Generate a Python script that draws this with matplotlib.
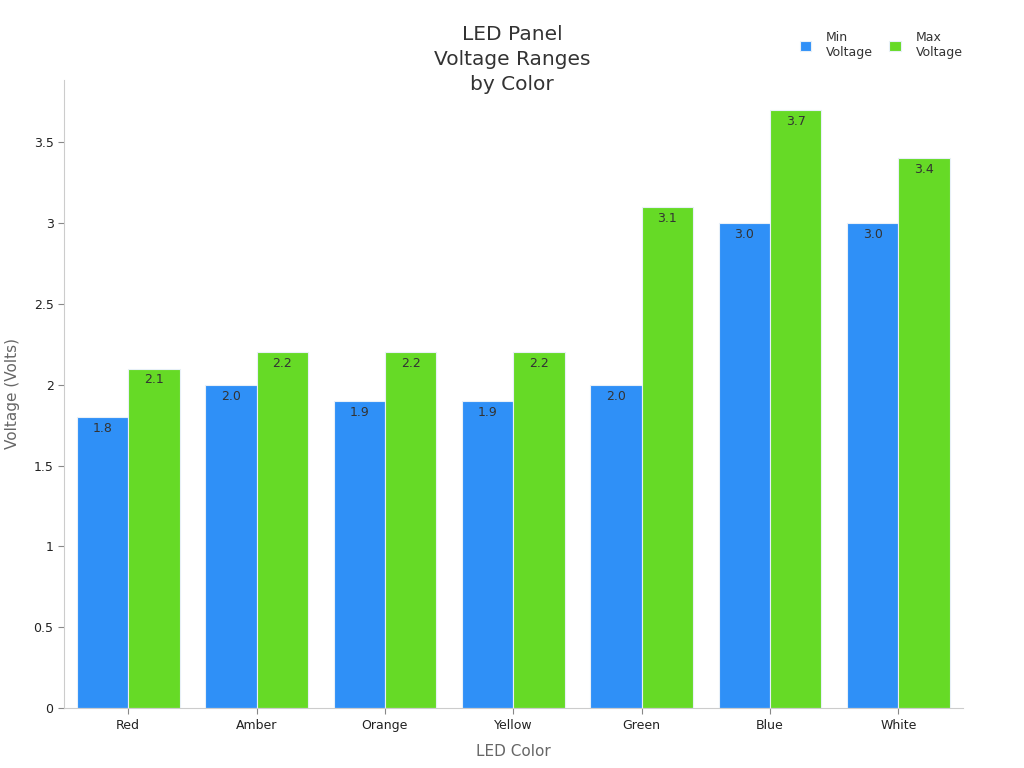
import numpy as np
import matplotlib
matplotlib.use("Agg")
from matplotlib import pyplot as plt

colors_led = ['Red', 'Amber', 'Orange', 'Yellow', 'Green', 'Blue', 'White']
min_voltage = [1.8, 2.0, 1.9, 1.9, 2.0, 3.0, 3.0]
max_voltage = [2.1, 2.2, 2.2, 2.2, 3.1, 3.7, 3.4]
y_ticks = [0, 0.5, 1, 1.5, 2, 2.5, 3, 3.5]
y_tick_labels = ['0', '0.5', '1', '1.5', '2', '2.5', '3', '3.5']

plt.rcParams['font.family'] = ['DejaVu Sans']

fig = plt.figure(figsize=(10.24, 7.68), dpi=100)
ax = fig.add_axes([0.0625, 0.078, 0.8775, 0.818])

x = np.arange(len(colors_led))
w = 0.4
b1 = ax.bar(x - w/2, min_voltage, w, color='#2f90f7', edgecolor='#e8f0f8', linewidth=0.8, label='Min\nVoltage')
b2 = ax.bar(x + w/2, max_voltage, w, color='#66da26', edgecolor='#e8f0f8', linewidth=0.8, label='Max\nVoltage')

for bars, vals in ((b1, min_voltage), (b2, max_voltage)):
    for r, v in zip(bars, vals):
        ax.text(r.get_x() + r.get_width()/2, v - 0.03, '%.1f' % v,
                ha='center', va='top', fontsize=9, color='#333333')

ax.set_xlim(-0.5, 6.5)
ax.set_ylim(0, 3.885)
ax.set_xticks(x)
ax.set_xticklabels(colors_led, fontsize=9, color='#222222')
ax.set_yticks(y_ticks)
ax.set_yticklabels(y_tick_labels, fontsize=9, color='#222222')
ax.tick_params(color='#888888', length=4)
for s in ['top', 'right']:
    ax.spines[s].set_visible(False)
for s in ['left', 'bottom']:
    ax.spines[s].set_color('#cccccc')

ax.set_xlabel('LED Color', fontsize=11, color='#666666', labelpad=9)
ax.set_ylabel('Voltage (Volts)', fontsize=11, color='#666666', labelpad=10)
fig.text(0.5, 0.923, 'LED Panel\nVoltage Ranges\nby Color', ha='center', va='center',
         fontsize=14.5, color='#333333', linespacing=1.4)

fig.legend(loc='upper right', bbox_to_anchor=(0.951, 0.974), ncol=2, frameon=False,
           fontsize=9, handlelength=0.9, handleheight=0.9, columnspacing=1.3,
           handletextpad=1.2, labelcolor='#333333')

fig.savefig('out.png', dpi=100)
